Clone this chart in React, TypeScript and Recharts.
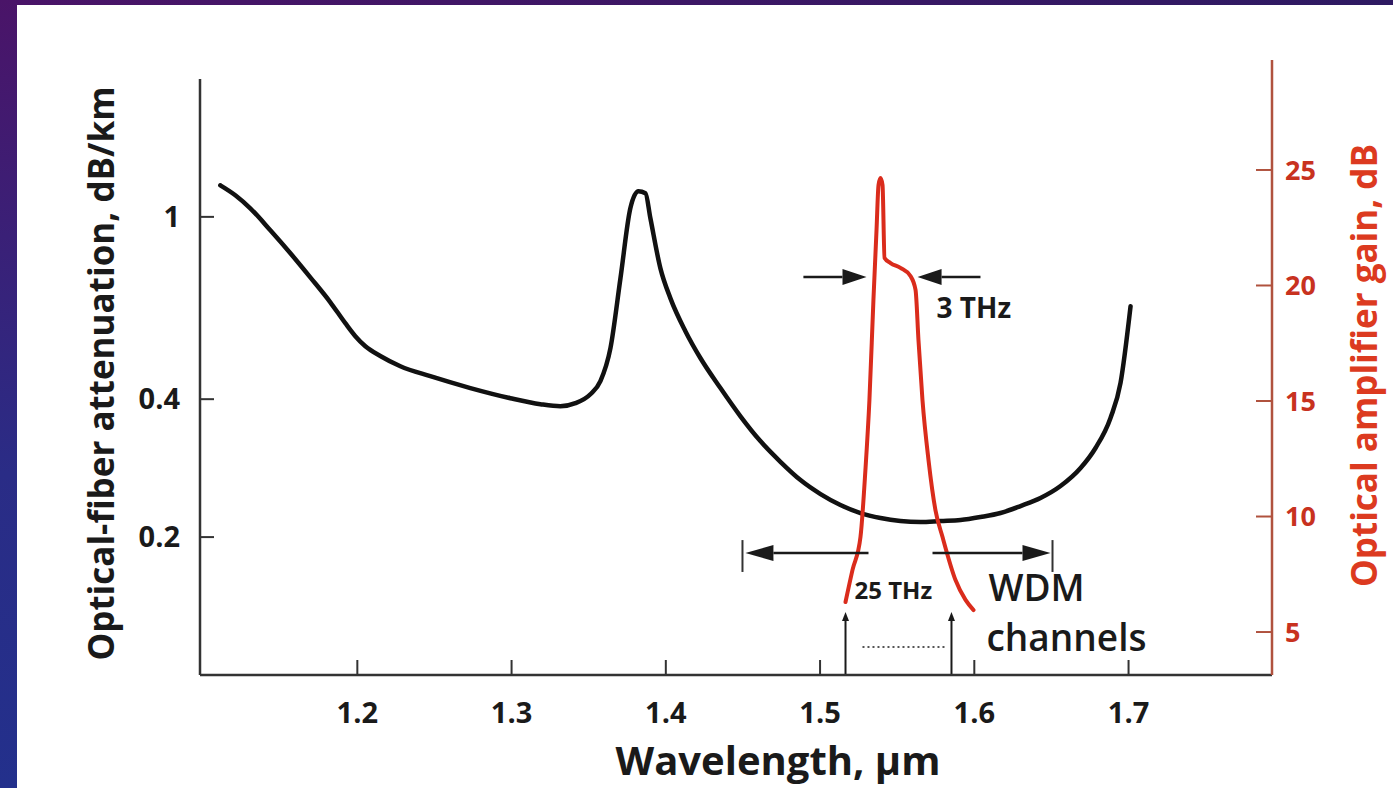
import React from "react";
import {
  LineChart,
  Line,
  XAxis,
  YAxis,
  ReferenceLine,
  ReferenceDot,
  Label,
} from "recharts";

// fiber attenuation curve (dB/km, log axis)
const attWavelength = [
  1.1112, 1.1209, 1.1306, 1.1436, 1.1566, 1.1695, 1.1825, 1.1922, 1.1987,
  1.2052, 1.2149, 1.2279, 1.2473, 1.2733, 1.2992, 1.3187, 1.3316, 1.3414,
  1.3511, 1.3576, 1.3641, 1.3706, 1.377, 1.3822, 1.3868, 1.39, 1.3965, 1.403,
  1.4127, 1.4224, 1.4354, 1.4484, 1.4613, 1.4743, 1.4873, 1.5003, 1.5132,
  1.5262, 1.5392, 1.5521, 1.5651, 1.5781, 1.5911, 1.604, 1.617, 1.63, 1.6429,
  1.6559, 1.6689, 1.6786, 1.6883, 1.6948, 1.7013,
];
const attLoss = [
  1.172, 1.115, 1.044, 0.935, 0.833, 0.738, 0.651, 0.586, 0.549, 0.522, 0.497,
  0.472, 0.449, 0.423, 0.402, 0.39, 0.386, 0.392, 0.41, 0.438, 0.517, 0.735,
  1.044, 1.137, 1.126, 0.993, 0.772, 0.664, 0.563, 0.492, 0.423, 0.367, 0.324,
  0.292, 0.2664, 0.2483, 0.235, 0.2257, 0.2201, 0.2168, 0.2157, 0.2168, 0.2179,
  0.2212, 0.2257, 0.2338, 0.2434, 0.2585, 0.283, 0.313, 0.364, 0.434, 0.638,
];

// erbium amplifier gain curve (dB, right axis)
const gainWavelength = [
  1.5165, 1.521, 1.5262, 1.5294, 1.532, 1.5346, 1.5366, 1.5379, 1.5392, 1.5405,
  1.5418, 1.5457, 1.5521, 1.5586, 1.5619, 1.5638, 1.5664, 1.5703, 1.5748,
  1.5794, 1.5878, 1.5943, 1.5995,
];
const gainDb = [
  6.3, 7.68, 9.11, 12.01, 15.04, 19.37, 22.4, 24.35, 24.65, 24.35, 21.19, 20.97,
  20.76, 20.41, 19.81, 17.64, 15.04, 12.45, 10.28, 9.11, 7.25, 6.39, 5.95,
];

const wavelengthTicks = [1.2, 1.3, 1.4, 1.5, 1.6, 1.7];
const lossTicks = [0.2, 0.4, 1];
const gainTicks = [5, 10, 15, 20, 25];

const X_MIN = 1.098;
const X_MAX = 1.793;

const attData = attWavelength.map((x, i) => ({ x, att: attLoss[i] }));
const gainData = gainWavelength.map((x, i) => ({ x, gain: gainDb[i] }));

const FONT = '"Open Sans", "Noto Sans", sans-serif';
const INK = "#1a1a1a";
const RED = "#da2c1c";

function arrow(head: number, half: number, width: number, color = INK) {
  return (p: any) => {
    const { x1, y1, x2, y2 } = p;
    const a = Math.atan2(y2 - y1, x2 - x1);
    const c = Math.cos(a);
    const s = Math.sin(a);
    const bx = x2 - head * c;
    const by = y2 - head * s;
    return (
      <g>
        <line x1={x1} y1={y1} x2={bx} y2={by} stroke={color} strokeWidth={width} />
        <polygon
          points={`${x2},${y2} ${bx - half * s},${by + half * c} ${bx + half * s},${by - half * c}`}
          fill={color}
        />
      </g>
    );
  };
}

function textAt(value: string, size: number, weight: number, color = INK) {
  return (p: any) => (
    <text
      x={p.cx}
      y={p.cy}
      fontFamily={FONT}
      fontSize={size}
      fontWeight={weight}
      fill={color}
    >
      {value}
    </text>
  );
}

export default function App() {
  return (
    <div
      style={{
        position: "absolute",
        left: 0,
        top: 0,
        width: 1393,
        height: 788,
        background: "#ffffff",
        overflow: "hidden",
      }}
    >
      <div
        style={{
          position: "absolute",
          left: 0,
          top: 0,
          width: 1393,
          height: 5,
          background: "linear-gradient(90deg, #4a1468, #2e1a62)",
        }}
      />
      <div
        style={{
          position: "absolute",
          left: 0,
          top: 0,
          width: 17,
          height: 788,
          background: "linear-gradient(180deg, #4a1468, #2a2c86 60%, #23308c)",
        }}
      />
      <div style={{ position: "absolute", left: 0, top: 0 }}>
        <LineChart
          width={1393}
          height={788}
          margin={{ top: 60, right: 0, bottom: 0, left: 100 }}
        >
          <XAxis
            dataKey="x"
            type="number"
            domain={[X_MIN, X_MAX]}
            ticks={wavelengthTicks}
            allowDataOverflow
            height={113}
            stroke="#333"
            strokeWidth={2.5}
            tickSize={-15}
            tickMargin={42}
            tickLine={{ stroke: "#333", strokeWidth: 2 }}
            tick={{ fill: INK, fontSize: 29, fontWeight: 700, fontFamily: FONT }}
          >
            <Label
              content={({ viewBox }: any) => (
                <text
                  x={viewBox.x + viewBox.width / 2 + 42}
                  y={775}
                  textAnchor="middle"
                  fontFamily={FONT}
                  fontSize={40}
                  fontWeight={700}
                  fill={INK}
                >
                  Wavelength, µm
                </text>
              )}
            />
          </XAxis>
          <YAxis
            yAxisId="att"
            orientation="left"
            type="number"
            scale="log"
            domain={[0.1, 2.2]}
            allowDataOverflow
            ticks={lossTicks}
            tickFormatter={(v: number) => String(v)}
            width={100}
            axisLine={false}
            tickSize={-14}
            tickMargin={34}
            tickLine={{ stroke: "#333", strokeWidth: 2 }}
            tick={{ fill: INK, fontSize: 29, fontWeight: 700, fontFamily: FONT }}
          >
            <Label
              content={({ viewBox }: any) => (
                <text
                  transform={`translate(${viewBox.x + 14},${viewBox.y + viewBox.height / 2 + 6}) rotate(-90)`}
                  textAnchor="middle"
                  fontFamily={FONT}
                  fontSize={35}
                  fontWeight={700}
                  fill={INK}
                >
                  Optical-fiber attenuation, dB/km
                </text>
              )}
            />
          </YAxis>
          <YAxis
            yAxisId="gain"
            orientation="right"
            type="number"
            domain={[3.14, 29.76]}
            allowDataOverflow
            ticks={gainTicks}
            width={121}
            stroke="#b0523e"
            strokeWidth={2.5}
            tickSize={-16}
            tickMargin={29}
            tickLine={{ stroke: "#b0523e", strokeWidth: 2 }}
            tick={{ fill: "#c8321f", fontSize: 27, fontWeight: 700, fontFamily: FONT }}
          >
            <Label
              content={({ viewBox }: any) => (
                <text
                  transform={`translate(${viewBox.x + 105},${viewBox.y + viewBox.height / 2 - 2}) rotate(-90)`}
                  textAnchor="middle"
                  fontFamily={FONT}
                  fontSize={35}
                  fontWeight={700}
                  fill="#dc3a20"
                >
                  Optical amplifier gain, dB
                </text>
              )}
            />
          </YAxis>

          <ReferenceLine
            yAxisId="att"
            ifOverflow="visible"
            segment={[
              { x: X_MIN, y: 0.1 },
              { x: X_MIN, y: 2.0 },
            ]}
            stroke="#333"
            strokeWidth={2.5}
          />

          <Line
            data={attData}
            yAxisId="att"
            dataKey="att"
            type="monotone"
            stroke="#111"
            strokeWidth={4.5}
            strokeLinecap="round"
            dot={false}
            activeDot={false}
            isAnimationActive={false}
          />
          <Line
            data={gainData}
            yAxisId="gain"
            dataKey="gain"
            type="monotone"
            stroke={RED}
            strokeWidth={4}
            strokeLinecap="round"
            strokeLinejoin="round"
            dot={false}
            activeDot={false}
            isAnimationActive={false}
          />

          {/* 3 THz bandwidth arrows */}
          <ReferenceLine
            yAxisId="gain"
            ifOverflow="visible"
            segment={[
              { x: 1.4892, y: 20.37 },
              { x: 1.5301, y: 20.37 },
            ]}
            shape={arrow(24, 8, 2.5)}
          />
          <ReferenceLine
            yAxisId="gain"
            ifOverflow="visible"
            segment={[
              { x: 1.604, y: 20.37 },
              { x: 1.5632, y: 20.37 },
            ]}
            shape={arrow(24, 8, 2.5)}
          />
          <ReferenceDot
            yAxisId="gain"
            x={1.5755}
            y={18.6}
            r={0}
            ifOverflow="visible"
            shape={textAt("3 THz", 28, 700)}
          />

          {/* 25 THz band arrows */}
          <ReferenceLine
            yAxisId="gain"
            ifOverflow="visible"
            segment={[
              { x: 1.5314, y: 8.42 },
              { x: 1.4516, y: 8.42 },
            ]}
            shape={arrow(28, 8, 2.5)}
          />
          <ReferenceLine
            yAxisId="gain"
            ifOverflow="visible"
            segment={[
              { x: 1.4497, y: 8.98 },
              { x: 1.4497, y: 7.6 },
            ]}
            stroke="#333"
            strokeWidth={2}
          />
          <ReferenceLine
            yAxisId="gain"
            ifOverflow="visible"
            segment={[
              { x: 1.5729, y: 8.42 },
              { x: 1.6494, y: 8.42 },
            ]}
            shape={arrow(28, 8, 2.5)}
          />
          <ReferenceLine
            yAxisId="gain"
            ifOverflow="visible"
            segment={[
              { x: 1.6507, y: 8.98 },
              { x: 1.6507, y: 7.6 },
            ]}
            stroke="#333"
            strokeWidth={2}
          />
          <ReferenceDot
            yAxisId="gain"
            x={1.5223}
            y={6.45}
            r={0}
            ifOverflow="visible"
            shape={textAt("25 THz", 24, 700)}
          />

          {/* WDM channel markers */}
          <ReferenceLine
            yAxisId="gain"
            ifOverflow="visible"
            segment={[
              { x: 1.5165, y: 3.14 },
              { x: 1.5165, y: 5.87 },
            ]}
            shape={arrow(9, 3.5, 2)}
          />
          <ReferenceLine
            yAxisId="gain"
            ifOverflow="visible"
            segment={[
              { x: 1.5852, y: 3.14 },
              { x: 1.5852, y: 5.87 },
            ]}
            shape={arrow(9, 3.5, 2)}
          />
          <ReferenceLine
            yAxisId="gain"
            ifOverflow="visible"
            segment={[
              { x: 1.5275, y: 4.35 },
              { x: 1.5813, y: 4.35 },
            ]}
            stroke="#555"
            strokeWidth={2}
            strokeDasharray="2 3"
          />
          <ReferenceDot
            yAxisId="gain"
            x={1.6092}
            y={6.35}
            r={0}
            ifOverflow="visible"
            shape={textAt("WDM", 37, 600)}
          />
          <ReferenceDot
            yAxisId="gain"
            x={1.6079}
            y={4.18}
            r={0}
            ifOverflow="visible"
            shape={textAt("channels", 37, 600)}
          />
        </LineChart>
      </div>
    </div>
  );
}
